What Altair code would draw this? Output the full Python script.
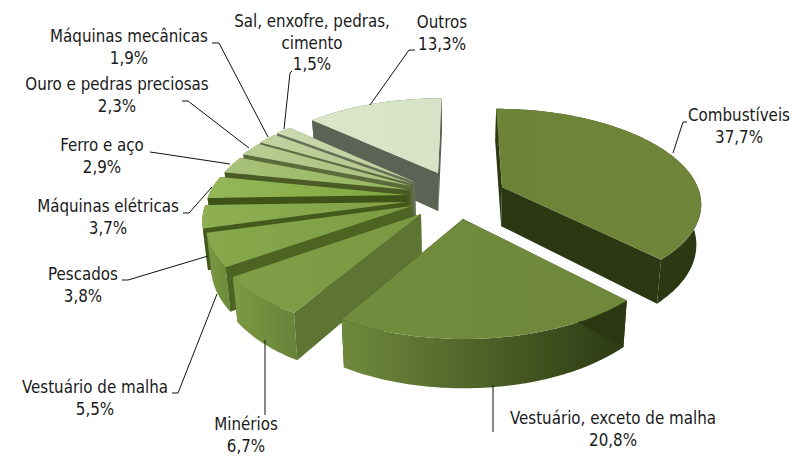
import math
import altair as alt

categories = ["Combustíveis", "Vestuário, exceto de malha", "Minérios", "Vestuário de malha", "Pescados",
              "Máquinas elétricas", "Ferro e aço", "Ouro e pedras preciosas", "Máquinas mecânicas",
              "Sal, enxofre, pedras, cimento", "Outros"]
shares = [37.7, 20.8, 6.7, 5.5, 3.8, 3.7, 2.9, 2.3, 1.9, 1.5, 13.3]
value_labels = ["37,7%", "20,8%", "6,7%", "5,5%", "3,8%", "3,7%", "2,9%", "2,3%", "1,9%", "1,5%", "13,3%"]
label_lines = [["Combustíveis"], ["Vestuário, exceto de malha"], ["Minérios"], ["Vestuário de malha"], ["Pescados"],
               ["Máquinas elétricas"], ["Ferro e aço"], ["Ouro e pedras preciosas"], ["Máquinas mecânicas"],
               ["Sal, enxofre, pedras,", "cimento"], ["Outros"]]

# --- layout (picture pixels) ---
W, H_PAGE = 783, 449
OFF = 8
label_pos = [(739, 116), (613, 419), (246, 425), (95, 388), (83, 275), (108, 207), (102, 146),
             (117, 85), (129, 37), (312, 22), (442, 23)]
LINE_H = 21.5
apex = [(502, 187), (463, 219), (421, 214), (412, 206), (407, 202), (407, 195), (410, 190),
        (412, 186), (413, 184), (415, 182), (438, 173)]
leaders = [[(673, 153), (683, 122), (687, 122)],
           [(493, 385), (493, 432)],
           [(265, 340), (265, 415)],
           [(217, 294), (178, 393), (172, 393)],
           [(208, 256), (128, 280), (122, 280)],
           [(212, 187), (189, 213), (183, 213)],
           [(230, 164), (157, 153), (150, 152)],
           [(249, 148), (188, 101), (182, 101)],
           [(268, 137), (219, 43), (212, 43)],
           [(284, 129), (290, 73), (292, 71)],
           [(370, 105), (409, 50), (415, 50)]]

# --- styles ---
def hgrad(a, b):
    return alt.LinearGradient(gradient="linear", x1=0, x2=1, y1=0, y2=0,
                              stops=[alt.GradientStop(offset=0, color=a), alt.GradientStop(offset=1, color=b)])

top_col = [hgrad("#6d8338", "#6f853a"), hgrad("#728c3e", "#6f883b"), hgrad("#7f9e47", "#7b9843"),
           hgrad("#86a84a", "#7d9c43"), hgrad("#8eb052", "#80a043"), hgrad("#94b858", "#80a63e"),
           hgrad("#a8c27a", "#96b45c"), hgrad("#b8cd94", "#a8c07a"), hgrad("#c0d2a0", "#b0c488"),
           hgrad("#cbd9b0", "#bccd98"), hgrad("#dbe5ca", "#d8e2c6")]
rim_col = [hgrad("#2c3812", "#2c3812"), hgrad("#6f8a3c", "#2c3812"), hgrad("#7c9b44", "#68823a"),
           hgrad("#7a9a42", "#6c883a"), hgrad("#7c9c44", "#7c9c44"), hgrad("#84a648", "#84a648"),
           hgrad("#8aa85a", "#8aa85a"), hgrad("#9ab070", "#9ab070"), hgrad("#a8bc84", "#a8bc84"),
           hgrad("#b0c090", "#b0c090"), hgrad("#5e6654", "#5e6654")]
face_col = ["#2c3812", "#2c3812", "#5d7432", "#4c6322", "#45591d", "#3e5318", "#4a5b26", "#5c6b3c",
            "#5e6b45", "#666f58", "#5d6354"]

# --- perspective of the pie plane, fitted to the picture ---
CX, YV, DEPTH, K, A, H = 458.0, -397.0, 597.0, 0.158, 200.0, 40.0


def top_pt(u, v):
    s = 1 / (1 - K * v)
    return (CX + A * u * s, YV + DEPTH * s)


def low_pt(u, v):
    s = 1 / (1 - K * v)
    x, y = top_pt(u, v)
    return (CX + (x - CX) * 0.98, y + H * s)


def feature(points):
    ring = [list(p) for p in points] + [list(points[0])]
    return {"type": "Feature", "properties": {}, "geometry": {"type": "Polygon", "coordinates": [ring]}}


def shape(points, fill):
    return alt.Chart(alt.Data(values=[feature(points)])).mark_geoshape(
        fill=fill, strokeWidth=0).project(
        type="identity", scale=1, translate=[-OFF, -OFF])


layers = []
cum = 0.0
bounds = []
for p in shares:
    bounds.append((cum * 3.6, (cum + p) * 3.6))
    cum += p

order = [10, 9, 8, 7, 6, 5, 4, 3, 2, 1, 0]
for i in order:
    a0, a1 = bounds[i]
    ax, ay = apex[i]
    s0 = (ay - YV) / DEPTH
    v0 = (1 - 1 / s0) / K
    u0 = (ax - CX) / (A * s0)
    n = max(4, int(a1 - a0))
    arc = []
    for j in range(n + 1):
        t = math.radians(a0 + (a1 - a0) * j / n)
        arc.append((u0 + math.sin(t), v0 - math.cos(t)))
    c = (u0, v0)
    # end edge, rim, start edge, top
    layers.append(shape([top_pt(*c), top_pt(*arc[-1]), low_pt(*arc[-1]), low_pt(*c)], face_col[i]))
    rim = [top_pt(*q) for q in arc] + [low_pt(*q) for q in reversed(arc)]
    layers.append(shape(rim, rim_col[i]))
    layers.append(shape([top_pt(*c), top_pt(*arc[0]), low_pt(*arc[0]), low_pt(*c)], face_col[i]))
    layers.append(shape([top_pt(*c)] + [top_pt(*q) for q in arc], top_col[i]))

xs = alt.Scale(domain=[OFF, OFF + W], range=[0, W], nice=False, zero=False)
ys = alt.Scale(domain=[OFF, OFF + H_PAGE], range=[0, H_PAGE], nice=False, zero=False)

line_rows = []
for i, pts in enumerate(leaders):
    for k, (x, y) in enumerate(pts):
        line_rows.append({"id": i, "k": k, "x": x, "y": y})
lines = alt.Chart(alt.Data(values=line_rows)).mark_line(color="#111111", strokeWidth=1).encode(
    x=alt.X("x:Q", scale=xs, axis=None),
    y=alt.Y("y:Q", scale=ys, axis=None),
    detail="id:N",
    order="k:Q",
)

text_rows = []
for i, (lx, ly) in enumerate(label_pos):
    rows = label_lines[i] + [value_labels[i]]
    for k, t in enumerate(rows):
        text_rows.append({"x": lx, "y": ly + k * LINE_H, "t": t})
texts = alt.Chart(alt.Data(values=text_rows)).mark_text(
    font="DejaVu Sans Condensed", fontSize=16.8, color="#1a1a1a", align="center", baseline="middle").encode(
    x=alt.X("x:Q", scale=xs, axis=None),
    y=alt.Y("y:Q", scale=ys, axis=None),
    text="t:N",
)

chart = alt.layer(*layers, lines, texts).properties(
    width=W, height=H_PAGE, padding=0, autosize=alt.AutoSizeParams(type="none"), background="white"
).configure_view(stroke=None)

chart.save("out.html", embed_options={"renderer": "svg", "actions": False})
